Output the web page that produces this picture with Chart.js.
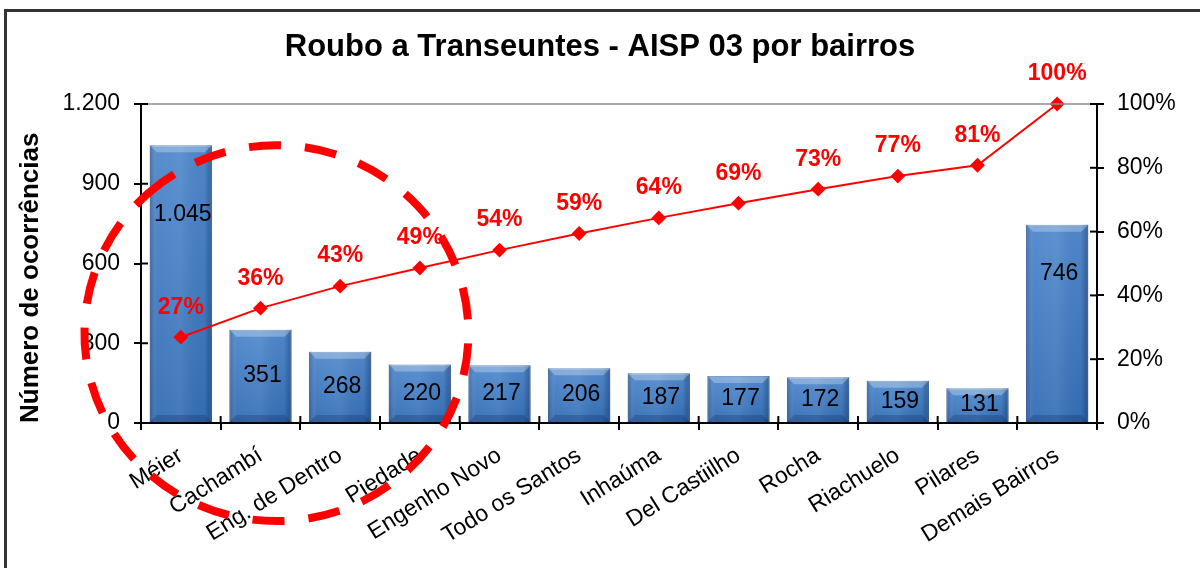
<!DOCTYPE html>
<html lang="pt-BR">
<head>
<meta charset="UTF-8">
<title>Roubo a Transeuntes - AISP 03 por bairros</title>
<script src="https://cdn.jsdelivr.net/npm/chart.js"></script>
<style>
    html, body { margin: 0; padding: 0; background: #fff; }
    body { width: 1200px; height: 568px; overflow: hidden; position: relative; }
    .frame {
        position: absolute; left: 4px; top: 9px; width: 1300px; height: 700px;
        border: 3px solid #333; box-sizing: border-box;
    }
    #chart { position: absolute; left: 0; top: 0; }
</style>
</head>
<body>
<div class="frame"></div>
<canvas id="chart" width="1200" height="568"></canvas>
<script>
// dados
const bairros = ['Méier', 'Cachambí', 'Eng. de Dentro', 'Piedade', 'Engenho Novo', 'Todo os Santos',
    'Inhaúma', 'Del Castiilho', 'Rocha', 'Riachuelo', 'Pilares', 'Demais Bairros'];
const ocorrencias = [1045, 351, 268, 220, 217, 206, 187, 177, 172, 159, 131, 746];
const acumulado = [26.9, 36.0, 42.9, 48.6, 54.2, 59.4, 64.3, 68.9, 73.3, 77.4, 80.8, 100];
const eixoOcorrencias = [0, 300, 600, 900, 1200];
const eixoPercentual = [0, 20, 40, 60, 80, 100];

// destaque tracejado (em unidades das escalas)
const destaque = { cx: 1.2, cy: 338, rx: 2.41, ry: 707 };

const FONT = "'Liberation Sans', Arial, sans-serif";
const fmt = v => v.toLocaleString('pt-BR');

// bevel nas barras + rótulos das barras
const barStyle = {
    id: 'barStyle',
    afterDatasetDraw(chart, args) {
        if (args.meta.type !== 'bar') return;
        const ctx = chart.ctx;
        args.meta.data.forEach((bar, i) => {
            const l = bar.x - bar.width / 2, r = bar.x + bar.width / 2;
            const t = bar.y, b = bar.base, w = bar.width;
            const h = b - t;
            ctx.save();
            const gv = ctx.createLinearGradient(0, t, 0, b);
            gv.addColorStop(0, 'rgba(255,255,255,0.10)');
            gv.addColorStop(1, 'rgba(0,20,60,0.12)');
            ctx.fillStyle = gv;
            ctx.fillRect(l, t, w, h);
            const g = ctx.createLinearGradient(l, 0, r, 0);
            g.addColorStop(0, 'rgba(10,30,70,0.30)');
            g.addColorStop(0.12, 'rgba(255,255,255,0.04)');
            g.addColorStop(0.5, 'rgba(255,255,255,0.08)');
            g.addColorStop(0.88, 'rgba(0,0,0,0.02)');
            g.addColorStop(1, 'rgba(10,30,70,0.35)');
            ctx.fillStyle = g;
            ctx.fillRect(l, t, w, h);
            const bev = Math.min(7, h / 3);
            ctx.fillStyle = 'rgba(255,255,255,0.28)';
            ctx.beginPath();
            ctx.moveTo(l, t); ctx.lineTo(r, t); ctx.lineTo(r - bev, t + bev); ctx.lineTo(l + bev, t + bev);
            ctx.closePath(); ctx.fill();
            ctx.fillStyle = 'rgba(10,30,70,0.25)';
            ctx.beginPath();
            ctx.moveTo(l, b); ctx.lineTo(r, b); ctx.lineTo(r - bev, b - bev); ctx.lineTo(l + bev, b - bev);
            ctx.closePath(); ctx.fill();
            // rótulo
            const ly = t + (h < 150 ? h / 2 : h * 0.25);
            ctx.fillStyle = '#000';
            ctx.font = '23px ' + FONT;
            ctx.textAlign = 'center';
            ctx.textBaseline = 'middle';
            ctx.fillText(fmt(ocorrencias[i]), bar.x + 2, ly);
            ctx.restore();
        });
    }
};

const extras = {
    id: 'extras',
    afterDraw(chart) {
        const ctx = chart.ctx;
        const a = chart.chartArea;
        const x = chart.scales.x, y = chart.scales.y, y1 = chart.scales.y1;
        ctx.save();
        // linha superior da área
        ctx.strokeStyle = '#8c8c8c';
        ctx.lineWidth = 1.5;
        ctx.beginPath(); ctx.moveTo(a.left, a.top); ctx.lineTo(a.right, a.top); ctx.stroke();
        // marcas internas (cruzando os eixos)
        ctx.strokeStyle = '#000';
        ctx.lineWidth = 2;
        y.ticks.forEach((t, i) => {
            const py = y.getPixelForTick(i);
            ctx.beginPath(); ctx.moveTo(a.left, py); ctx.lineTo(a.left + 7, py); ctx.stroke();
        });
        y1.ticks.forEach((t, i) => {
            const py = y1.getPixelForTick(i);
            ctx.beginPath(); ctx.moveTo(a.right, py); ctx.lineTo(a.right - 7, py); ctx.stroke();
        });
        for (let i = 0; i <= bairros.length; i++) {
            const px = x.getPixelForValue(i - 0.5);
            ctx.beginPath(); ctx.moveTo(px, a.bottom); ctx.lineTo(px, a.bottom - 7); ctx.stroke();
        }
        // rótulos percentuais
        const meta = chart.getDatasetMeta(0);
        ctx.fillStyle = '#ff0000';
        ctx.font = 'bold 23px ' + FONT;
        ctx.textAlign = 'center';
        ctx.textBaseline = 'middle';
        meta.data.forEach((p, i) => {
            ctx.fillText(Math.round(acumulado[i]) + '%', p.x, p.y - 30);
        });
        // elipse tracejada
        const cx = x.getPixelForValue(destaque.cx);
        const cy = y.getPixelForValue(destaque.cy);
        const rx = x.getPixelForValue(destaque.cx + destaque.rx) - cx;
        const ry = cy - y.getPixelForValue(destaque.cy + destaque.ry);
        ctx.strokeStyle = '#ff0000';
        ctx.lineWidth = 8;
        ctx.setLineDash([32, 24]);
        ctx.beginPath();
        ctx.ellipse(cx, cy, rx, ry, 0, -2.3, -2.3 + Math.PI * 2);
        ctx.stroke();
        ctx.restore();
    }
};

new Chart(document.getElementById('chart'), {
    data: {
        labels: bairros,
        datasets: [
            {
                type: 'line',
                label: '% acumulado',
                data: acumulado,
                yAxisID: 'y1',
                borderColor: '#ff0000',
                backgroundColor: '#ff0000',
                borderWidth: 2,
                pointStyle: 'rectRot',
                pointRadius: 6,
                pointHoverRadius: 6,
                clip: false,
                order: 0
            },
            {
                type: 'bar',
                label: 'Número de ocorrências',
                data: ocorrencias,
                yAxisID: 'y',
                backgroundColor: '#3c7bc6',
                borderColor: '#2f65a8',
                borderWidth: 1,
                barPercentage: 0.78,
                categoryPercentage: 1,
                order: 1
            }
        ]
    },
    options: {
        responsive: false,
        animation: false,
        events: [],
        layout: { padding: 0 },
        plugins: {
            legend: { display: false },
            tooltip: { enabled: false },
            title: {
                display: true,
                text: 'Roubo a Transeuntes - AISP 03 por bairros',
                color: '#000',
                font: { family: FONT, size: 31, weight: 'bold', lineHeight: 1.2 },
                padding: { top: 28.4, bottom: 38.4 }
            }
        },
        scales: {
            x: {
                offset: true,
                border: { color: '#000', width: 2 },
                grid: { offset: true, drawOnChartArea: false, color: '#000', lineWidth: 2, tickLength: 7 },
                ticks: {
                    color: '#000',
                    font: { family: FONT, size: 23 },
                    minRotation: 32, maxRotation: 32,
                    padding: 12,
                    autoSkip: false
                },
                afterFit(s) { s.height = 145; }
            },
            y: {
                position: 'left',
                min: eixoOcorrencias[0],
                max: eixoOcorrencias[eixoOcorrencias.length - 1],
                afterBuildTicks(s) { s.ticks = eixoOcorrencias.map(v => ({ value: v })); },
                border: { color: '#000', width: 2 },
                grid: { drawOnChartArea: false, color: '#000', lineWidth: 2, tickLength: 7 },
                ticks: { color: '#000', font: { family: FONT, size: 23 }, padding: 14, callback: v => fmt(v) },
                title: {
                    display: true,
                    text: 'Número de ocorrências',
                    align: 'start',
                    color: '#000',
                    font: { family: FONT, size: 26, weight: 'bold', lineHeight: 1.2 },
                    padding: { top: 15, bottom: 0 }
                },
                afterFit(s) { s.width = 141; }
            },
            y1: {
                position: 'right',
                min: eixoPercentual[0],
                max: eixoPercentual[eixoPercentual.length - 1],
                afterBuildTicks(s) { s.ticks = eixoPercentual.map(v => ({ value: v })); },
                border: { color: '#000', width: 2 },
                grid: { drawOnChartArea: false, color: '#000', lineWidth: 2, tickLength: 7 },
                ticks: { color: '#000', font: { family: FONT, size: 23 }, padding: 13, callback: v => v + '%' },
                afterFit(s) { s.width = 103; }
            }
        }
    },
    plugins: [barStyle, extras]
});
</script>
</body>
</html>
